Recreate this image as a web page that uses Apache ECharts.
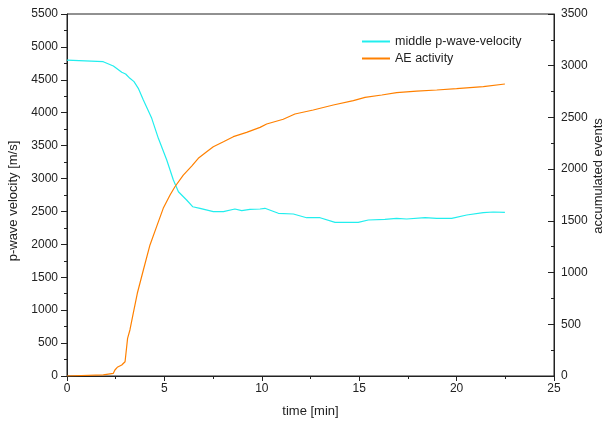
<!DOCTYPE html>
<html>
<head>
<meta charset="utf-8">
<script src="https://cdn.jsdelivr.net/npm/echarts@6/dist/echarts.min.js"></script>
<style>html,body{margin:0;padding:0;background:#fff}#c{width:608px;height:426px}</style>
</head>
<body>
<div id="c"></div>
<script>
// time [min] and p-wave velocity [m/s]
const velTime = [0, 1.86, 2.38, 2.81, 3.01, 3.23, 3.44, 3.66, 3.92, 4.35, 4.69, 5.12, 5.46, 5.72, 6.14, 6.45, 6.83, 7.51, 8.03, 8.62, 8.97, 9.39, 9.91, 10.16, 10.85, 11.62, 12.3, 12.99, 13.76, 14.95, 15.47, 16.32, 16.92, 17.44, 18.38, 18.98, 19.75, 20.52, 21.37, 21.88, 22.48];
const velValues = [4800, 4775, 4710, 4614, 4588, 4523, 4472, 4371, 4193, 3915, 3611, 3282, 2978, 2800, 2674, 2572, 2548, 2497, 2497, 2537, 2512, 2532, 2537, 2548, 2472, 2461, 2405, 2405, 2335, 2335, 2370, 2381, 2396, 2385, 2405, 2396, 2396, 2446, 2481, 2492, 2487];
// time [min] and accumulated AE events
const aeTime = [0, 1.86, 2.38, 2.46, 2.58, 2.81, 2.98, 3.11, 3.23, 3.40, 3.61, 3.92, 4.26, 4.60, 4.94, 5.29, 5.54, 5.97, 6.40, 6.74, 7.17, 7.51, 8.03, 8.54, 9.22, 9.91, 10.25, 11.1, 11.7, 12.64, 13.67, 14.7, 15.3, 16.16, 16.92, 17.95, 18.98, 20.0, 21.37, 22.48];
const aeValues = [0, 10, 26, 58, 84, 106, 138, 364, 445, 606, 800, 1025, 1267, 1444, 1621, 1750, 1830, 1943, 2030, 2105, 2169, 2217, 2265, 2314, 2356, 2404, 2436, 2482, 2533, 2572, 2620, 2662, 2694, 2717, 2739, 2755, 2765, 2778, 2797, 2823];
const seriesNames = ['middle p-wave-velocity', 'AE activity'];
const rightTitle = 'accumulated events';

const font = '"Liberation Sans", Arial, sans-serif';
const txt = '#222';
const plain = v => String(v);
const chart = echarts.init(document.getElementById('c'), null, {renderer: 'canvas'});
chart.setOption({
  animation: false,
  textStyle: {fontFamily: font},
  grid: {left: 67, right: 54, top: 14, bottom: 50, outerBoundsMode: 'none', containLabel: false,
         show: true, borderColor: '#222', borderWidth: 1, backgroundColor: 'transparent'},
  legend: {
    data: seriesNames.map(n => ({name: n, icon: 'rect'})),
    orient: 'vertical', left: 362, top: 35, padding: 0,
    itemWidth: 28, itemHeight: 2, itemGap: 4,
    textStyle: {fontFamily: font, fontSize: 12.5, color: txt}
  },
  graphic: [{
    type: 'text', x: 598, y: 176, rotation: Math.PI / 2,
    style: {text: rightTitle, fill: txt, font: '13px ' + font, align: 'center', verticalAlign: 'middle'}
  }],
  xAxis: {
    type: 'value', min: 0, max: 25, interval: 5,
    name: 'time [min]', nameLocation: 'middle', nameGap: 29,
    nameTextStyle: {fontFamily: font, fontSize: 13, color: txt},
    axisLine: {lineStyle: {color: '#222', width: 1}},
    axisTick: {length: 5, lineStyle: {color: '#222'}},
    minorTick: {show: true, splitNumber: 2, length: 3, lineStyle: {color: '#222'}},
    splitLine: {show: false},
    axisLabel: {fontFamily: font, fontSize: 12, color: txt, margin: 7, formatter: plain}
  },
  yAxis: [{
    type: 'value', min: 0, max: 5500, interval: 500, position: 'left',
    name: 'p-wave velocity [m/s]', nameLocation: 'middle', nameGap: 45,
    nameTextStyle: {fontFamily: font, fontSize: 13, color: txt, padding: [0, 12, 0, 0]},
    axisLine: {show: true, lineStyle: {color: '#222', width: 1}},
    axisTick: {show: true, length: 6, lineStyle: {color: '#222'}},
    minorTick: {show: true, splitNumber: 2, length: 3, lineStyle: {color: '#222'}},
    splitLine: {show: false},
    axisLabel: {fontFamily: font, fontSize: 12, color: txt, margin: 9, formatter: plain}
  }, {
    type: 'value', min: 0, max: 3500, interval: 500, position: 'right',
    axisLine: {show: true, lineStyle: {color: '#222', width: 1}},
    axisTick: {show: true, inside: true, length: 6, lineStyle: {color: '#222'}},
    minorTick: {show: true, splitNumber: 2, length: 3, lineStyle: {color: '#222'}},
    splitLine: {show: false},
    axisLabel: {fontFamily: font, fontSize: 12, color: txt, margin: 7, formatter: plain}
  }],
  series: [{
    name: seriesNames[0], type: 'line', yAxisIndex: 0, showSymbol: false, symbol: 'none',
    color: '#22eeee', lineStyle: {width: 1.2, color: '#22eeee'},
    data: velTime.map((t, i) => [t, velValues[i]])
  }, {
    name: seriesNames[1], type: 'line', yAxisIndex: 1, showSymbol: false, symbol: 'none',
    color: '#ff8000', lineStyle: {width: 1.2, color: '#ff8000'},
    data: aeTime.map((t, i) => [t, aeValues[i]])
  }]
});
</script>
</body>
</html>
